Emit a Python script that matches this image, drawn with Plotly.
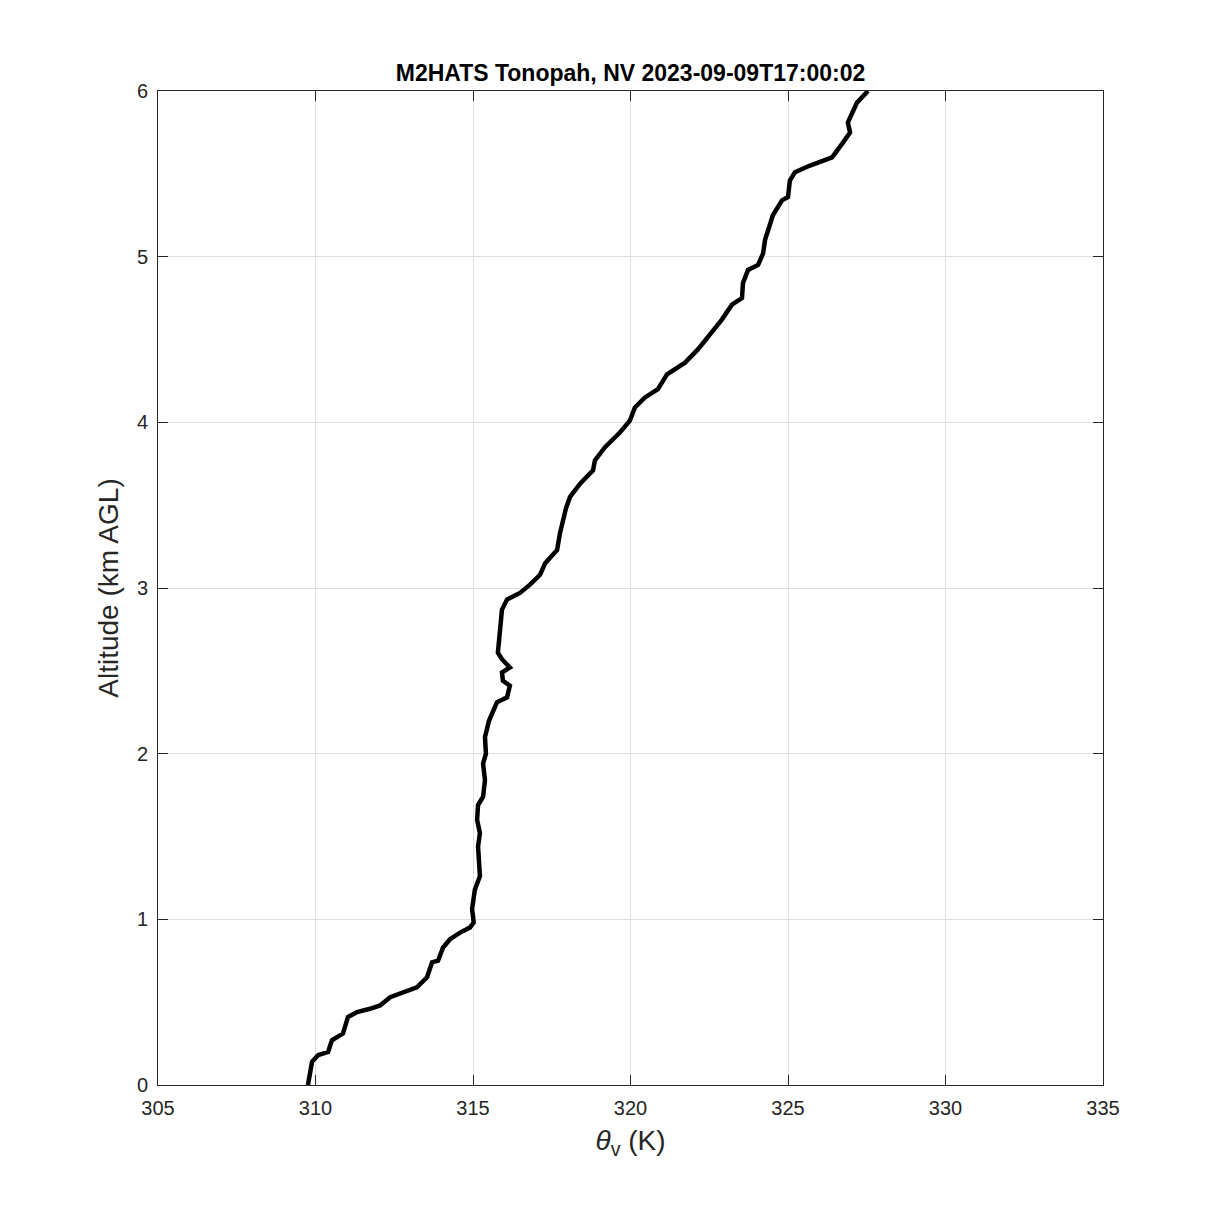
import plotly.graph_objects as go

# virtual potential temperature (K) vs altitude (km AGL)
theta_v = [309.76, 309.89, 310.08, 310.40, 310.52, 310.87, 311.03, 311.32, 311.73, 312.05,
           312.37, 312.78, 313.22, 313.54, 313.70, 313.89, 314.05, 314.27, 314.59, 314.90,
           315.02, 315.00, 314.97, 315.00, 315.06, 315.22, 315.19, 315.16, 315.22, 315.13,
           315.16, 315.32, 315.38, 315.32, 315.41, 315.38, 315.51, 315.60, 315.76, 316.08,
           316.17, 315.95, 315.92, 316.17, 315.92, 315.79, 315.86, 315.92, 316.08, 316.49,
           316.81, 317.13, 317.29, 317.67, 317.76, 317.86, 317.95, 318.08, 318.40, 318.81,
           318.87, 319.19, 319.67, 319.98, 320.14, 320.46, 320.87, 321.16, 321.73, 322.14,
           322.52, 322.90, 323.22, 323.54, 323.57, 323.73, 324.05, 324.21, 324.27, 324.52,
           324.81, 325.00, 325.06, 325.22, 325.70, 326.40, 326.75, 326.97, 326.90, 327.19,
           327.54]
altitude = [0.00, 0.14, 0.18, 0.20, 0.27, 0.31, 0.41, 0.44, 0.46, 0.48,
            0.53, 0.56, 0.59, 0.65, 0.74, 0.75, 0.83, 0.88, 0.92, 0.95,
            0.98, 1.02, 1.06, 1.10, 1.18, 1.26, 1.32, 1.44, 1.52, 1.60,
            1.69, 1.74, 1.84, 1.94, 2.00, 2.10, 2.20, 2.24, 2.31, 2.34,
            2.41, 2.44, 2.49, 2.52, 2.57, 2.61, 2.76, 2.87, 2.93, 2.97,
            3.02, 3.08, 3.15, 3.23, 3.33, 3.41, 3.48, 3.55, 3.63, 3.71,
            3.77, 3.85, 3.94, 4.01, 4.09, 4.15, 4.20, 4.29, 4.36, 4.44,
            4.53, 4.62, 4.71, 4.75, 4.84, 4.92, 4.95, 5.02, 5.10, 5.25,
            5.34, 5.36, 5.46, 5.51, 5.55, 5.60, 5.69, 5.75, 5.81, 5.93,
            6.00]

x_ticks = [305, 310, 315, 320, 325, 330, 335]
y_ticks = [0, 1, 2, 3, 4, 5, 6]

fig = go.Figure()
fig.add_trace(go.Scatter(x=theta_v, y=altitude, mode='lines',
                         line={'color': 'black', 'width': 4.5}, showlegend=False))

axis_style = {
    'showline': True,
    'linecolor': '#262626',
    'linewidth': 1,
    'mirror': 'allticks',
    'ticks': 'inside',
    'ticklen': 10,
    'tickcolor': '#262626',
    'showgrid': True,
    'gridcolor': '#dfdfdf',
    'gridwidth': 1,
    'zeroline': False,
    'ticklabelstandoff': 5,
    'tickfont': {'size': 20, 'color': '#262626'},
}

fig.update_layout(
    width=1219,
    height=1219,
    paper_bgcolor='white',
    plot_bgcolor='white',
    font={'family': 'Liberation Sans, Arial, sans-serif', 'color': '#262626'},
    # the page body adds 8 px, so the margins are trimmed to keep the axes in place
    margin={'l': 150, 'r': 124, 't': 83, 'b': 142},
    title={
        'text': '<b>M2HATS Tonopah, NV 2023-09-09T17:00:02</b>',
        'font': {'size': 23, 'color': 'black'},
        'x': 0.5, 'xref': 'paper', 'xanchor': 'center',
        'y': 0.9467, 'yanchor': 'middle',
    },
    xaxis={**axis_style, 'range': [305, 335], 'tickvals': x_ticks,
           'title': {'text': '<i>θ</i><sub>v</sub> (K)', 'font': {'size': 28}, 'standoff': 12}},
    yaxis={**axis_style, 'range': [0, 6], 'tickvals': y_ticks,
           'title': {'text': 'Altitude (km AGL)', 'font': {'size': 28}, 'standoff': 10}},
)

fig.write_html("out.html")
